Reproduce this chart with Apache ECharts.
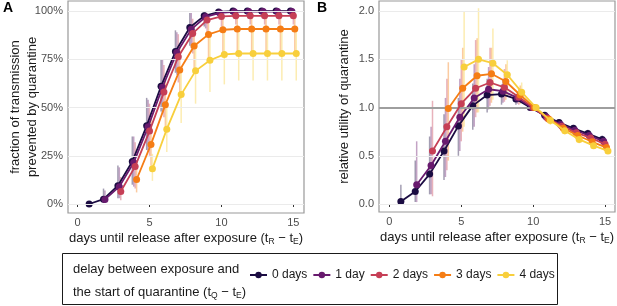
<!DOCTYPE html>
<html><head><meta charset="utf-8">
<script src="https://cdn.jsdelivr.net/npm/echarts@6/dist/echarts.min.js"></script>
<style>html,body{margin:0;padding:0;background:#fff}#c{width:617px;height:306px}</style>
</head><body><div id="c"></div>
<script>
// ---------- data ----------
const delays = ['0 days', '1 day', '2 days', '3 days', '4 days'];
const startDay = [1, 2, 3, 4, 5];           // first release day of each delay group
const xTicks = [0, 5, 10, 15];
const yTicksA = [0, 25, 50, 75, 100];
const yTicksB = [0, 0.5, 1, 1.5, 2];

// Panel A: fraction of transmission prevented (%)
const fracMean0 = [0, 2.5, 9.5, 22, 40.5, 61, 79, 91.5, 97.5, 99.5, 100, 100, 100, 100, 100];
const fracMean1 = [2.4, 9, 21.5, 40, 60.5, 78.5, 90.5, 97, 99, 99.6, 99.7, 99.7, 99.7, 99.7];
const fracMean2 = [6.5, 19.5, 37.8, 58, 76.3, 88.4, 95.3, 97.2, 97.5, 97.5, 97.5, 97.5, 97.5];
const fracMean3 = [12.7, 30.9, 51.5, 69.4, 81.9, 87.9, 90.3, 90.7, 90.7, 90.7, 90.7, 90.7];
const fracMean4 = [18.3, 38.8, 56.7, 69, 74.5, 77.5, 78, 78, 78, 78, 78];
const fracLo0 = [0, 0.5, 3, 10, 28, 48, 68, 82, 92, 97, 99, 99, 99, 99, 99];
const fracHi0 = [0.5, 8, 20, 35, 55, 75, 90, 99, 100, 100, 100, 100, 100, 100, 100];
const fracLo1 = [0.5, 3, 9, 27, 47, 67, 81, 91, 96, 98, 98, 98, 98, 98];
const fracHi1 = [7, 19, 35, 54, 75, 89, 99, 100, 100, 100, 100, 100, 100, 100];
const fracLo2 = [2, 8, 25, 45, 63, 78, 88, 92, 93, 93, 93, 93, 93];
const fracHi2 = [14, 32, 52, 72, 88, 96, 99, 100, 100, 100, 100, 100, 100];
const fracLo3 = [6, 20, 38, 55, 68, 75, 78, 78, 78, 78, 78, 78];
const fracHi3 = [22, 45, 65, 82, 93, 97, 98, 99, 99, 99, 99, 99];
const fracLo4 = [12, 27, 42, 52, 58, 62, 64, 64, 64, 64, 64];
const fracHi4 = [26, 52, 70, 84, 89, 91, 92, 92, 92, 92, 92];

// Panel B: relative utility of quarantine
const utilMean0 = [0.025, 0.13, 0.31, 0.55, 0.81, 1.02, 1.13, 1.14, 1.09, 1.0, 0.92, 0.845, 0.785, 0.73, 0.67];
const utilMean1 = [0.20, 0.40, 0.65, 0.90, 1.10, 1.19, 1.17, 1.10, 1.0, 0.905, 0.825, 0.765, 0.71, 0.65];
const utilMean2 = [0.55, 0.80, 1.04, 1.20, 1.26, 1.21, 1.11, 1.0, 0.89, 0.805, 0.74, 0.685, 0.62];
const utilMean3 = [0.99, 1.20, 1.33, 1.35, 1.27, 1.13, 1.0, 0.88, 0.785, 0.71, 0.645, 0.585];
const utilMean4 = [1.42, 1.50, 1.46, 1.34, 1.16, 1.0, 0.865, 0.76, 0.67, 0.605, 0.55];
const utilLo0 = [0, 0.02, 0.1, 0.25, 0.5, 0.77, 0.95, 1.03, 1.03, 0.98, 0.88, 0.80, 0.74, 0.69, 0.63];
const utilHi0 = [0.2, 0.45, 0.7, 0.93, 1.1, 1.25, 1.3, 1.24, 1.14, 1.02, 0.95, 0.88, 0.82, 0.77, 0.71];
const utilLo1 = [0.02, 0.1, 0.28, 0.55, 0.8, 0.98, 1.05, 1.04, 0.98, 0.87, 0.79, 0.72, 0.67, 0.61];
const utilHi1 = [0.65, 0.8, 1.1, 1.3, 1.45, 1.42, 1.3, 1.16, 1.02, 0.94, 0.87, 0.81, 0.75, 0.69];
const utilLo2 = [0.08, 0.35, 0.65, 0.9, 1.02, 1.06, 1.03, 0.97, 0.86, 0.77, 0.70, 0.64, 0.58];
const utilHi2 = [1.07, 1.3, 1.5, 1.7, 1.62, 1.4, 1.2, 1.03, 0.93, 0.85, 0.78, 0.72, 0.66];
const utilLo3 = [0.45, 0.75, 0.95, 1.05, 1.08, 1.04, 0.97, 0.84, 0.74, 0.67, 0.61, 0.55];
const utilHi3 = [1.47, 1.62, 1.72, 1.62, 1.45, 1.23, 1.03, 0.92, 0.83, 0.75, 0.68, 0.62];
const utilLo4 = [0.8, 0.95, 1.08, 1.12, 1.07, 0.97, 0.82, 0.72, 0.63, 0.57, 0.52];
const utilHi4 = [2.0, 2.03, 1.82, 1.49, 1.26, 1.03, 0.91, 0.8, 0.71, 0.64, 0.58];
const utilRef = 1;

// ---------- chart ----------
const fracMean = [fracMean0, fracMean1, fracMean2, fracMean3, fracMean4];
const fracLo = [fracLo0, fracLo1, fracLo2, fracLo3, fracLo4];
const fracHi = [fracHi0, fracHi1, fracHi2, fracHi3, fracHi4];
const utilMean = [utilMean0, utilMean1, utilMean2, utilMean3, utilMean4];
const utilLo = [utilLo0, utilLo1, utilLo2, utilLo3, utilLo4];
const utilHi = [utilHi0, utilHi1, utilHi2, utilHi3, utilHi4];

const colors = ['#1b0c42', '#681a6e', '#c63f56', '#f57d15', '#f8cf3c'];
const dodge = [-0.2, -0.1, 0, 0.1, 0.2];
const FONT = 'Liberation Sans, Arial, sans-serif';
const tickCol = '#4d4d4d';

const chart = echarts.init(document.getElementById('c'), null, {renderer: 'canvas'});

function xAxisDef(gi, min, max) {
  return {
    type: 'value', gridIndex: gi, min: min, max: max,
    axisLine: {show: false},
    axisTick: {show: true, length: 3, customValues: xTicks, lineStyle: {color: '#333', width: 1}},
    axisLabel: {customValues: xTicks, color: tickCol, fontSize: 11, fontFamily: FONT, margin: 4},
    splitLine: {show: false},
    name: '{t|days until release after exposure (t}{s|R}{t| \u2212 t}{s|E}{t|)}',
    nameLocation: 'middle', nameGap: 17, nameMoveOverlap: false,
    nameTextStyle: {rich: {
      t: {fontSize: 13, fontFamily: FONT, color: '#1a1a1a', lineHeight: 16},
      s: {fontSize: 8.5, fontFamily: FONT, color: '#1a1a1a', lineHeight: 16, verticalAlign: 'bottom', padding: [6, 0, 0, 0]}
    }}
  };
}

const option = {
  animation: false,
  backgroundColor: '#ffffff',
  textStyle: {fontFamily: FONT},
  grid: [
    {left: 68, top: 1, width: 236, height: 212, show: true, borderColor: '#999999', borderWidth: 1.2, backgroundColor: '#fff'},
    {left: 379, top: 1, width: 237, height: 211, show: true, borderColor: '#999999', borderWidth: 1.2, backgroundColor: '#fff'}
  ],
  xAxis: [xAxisDef(0, -0.67, 15.74), xAxisDef(1, -0.72, 15.69)],
  yAxis: [
    {type: 'value', gridIndex: 0, min: -4.66, max: 105.2,
      axisLine: {show: false},
      axisTick: {show: true, length: 3, customValues: yTicksA, lineStyle: {color: '#333'}},
      axisLabel: {customValues: yTicksA, formatter: v => v + '%', color: tickCol, fontSize: 11, fontFamily: FONT, margin: 5},
      splitLine: {show: false},
      name: 'fraction of transmission\nprevented by quarantine',
      nameLocation: 'middle', nameGap: 27, nameMoveOverlap: false,
      nameTextStyle: {fontSize: 13, fontFamily: FONT, color: '#1a1a1a', lineHeight: 17}
    },
    {type: 'value', gridIndex: 1, min: -0.083, max: 2.105,
      axisLine: {show: false},
      axisTick: {show: true, length: 3, customValues: yTicksB, lineStyle: {color: '#333'}},
      axisLabel: {customValues: yTicksB, formatter: v => v.toFixed(1), color: tickCol, fontSize: 11, fontFamily: FONT, margin: 5},
      splitLine: {show: false},
      name: 'relative utility of quarantine',
      nameLocation: 'middle', nameGap: 28, nameMoveOverlap: false,
      nameTextStyle: {fontSize: 13, fontFamily: FONT, color: '#1a1a1a'}
    }
  ],
  legend: {
    data: delays, left: 244, top: 264, itemWidth: 17, itemHeight: 8, itemGap: 5,
    textStyle: {fontSize: 12, fontFamily: FONT, color: '#1a1a1a'},
    selectedMode: false
  },
  graphic: [
    {type: 'text', left: 3, top: 1, style: {text: 'A', font: 'bold 14px ' + FONT, fill: '#000'}},
    {type: 'text', left: 317, top: 1, style: {text: 'B', font: 'bold 14px ' + FONT, fill: '#000'}},
    {type: 'rect', shape: {x: 62.5, y: 253.5, width: 495, height: 51}, style: {fill: 'none', stroke: '#1a1a1a', lineWidth: 1}},
    {type: 'text', left: 73, top: 263, style: {text: 'delay between exposure and', font: '13px ' + FONT, fill: '#1a1a1a'}},
    {type: 'text', left: 73, top: 285, style: {
      text: '{t|the start of quarantine (t}{s|Q}{t| \u2212 t}{s|E}{t|)}',
      rich: {
        t: {fontSize: 13, fontFamily: FONT, fill: '#1a1a1a', lineHeight: 16},
        s: {fontSize: 8.5, fontFamily: FONT, fill: '#1a1a1a', lineHeight: 16, verticalAlign: 'bottom', padding: [6, 0, 0, 0]}
      }}}
  ],
  series: []
};

// background gridlines / reference line
option.series.push({
  type: 'line', xAxisIndex: 0, yAxisIndex: 0, data: [], z: 0, silent: true,
  markLine: {silent: true, symbol: 'none', label: {show: false}, animation: false,
    lineStyle: {color: '#ebebeb', width: 1, type: 'solid'},
    data: yTicksA.map(v => ({yAxis: v}))}
});
option.series.push({
  type: 'line', xAxisIndex: 1, yAxisIndex: 1, data: [], z: 0, silent: true,
  markLine: {silent: true, symbol: 'none', label: {show: false}, animation: false,
    lineStyle: {color: '#ebebeb', width: 1, type: 'solid'},
    data: yTicksB.filter(v => v !== utilRef).map(v => ({yAxis: v}))}
});
option.series.push({
  type: 'line', xAxisIndex: 1, yAxisIndex: 1, data: [], z: 0, silent: true,
  markLine: {silent: true, symbol: 'none', label: {show: false}, animation: false,
    lineStyle: {color: '#9e9e9e', width: 2.2, type: 'solid'},
    data: [{yAxis: utilRef}]}
});

function errSeries(gi, i, lo, hi) {
  return {
    type: 'custom', xAxisIndex: gi, yAxisIndex: gi, z: 1, silent: true,
    data: lo.map((v, k) => [startDay[i] + k + dodge[i], v, hi[k]]),
    encode: {x: 0, y: [1, 2]},
    renderItem: (params, api) => {
      const x = api.value(0);
      const p1 = api.coord([x, api.value(1)]);
      const p2 = api.coord([x, api.value(2)]);
      return {type: 'line', shape: {x1: p1[0], y1: p1[1], x2: p2[0], y2: p2[1]},
        style: {stroke: colors[i], lineWidth: 1.5, opacity: 0.4}};
    }
  };
}
for (let i = 0; i < 5; i++) option.series.push(errSeries(0, i, fracLo[i], fracHi[i]));
for (let i = 0; i < 5; i++) option.series.push(errSeries(1, i, utilLo[i], utilHi[i]));

function lineSeries(gi, i, vals) {
  return {
    type: 'line', name: delays[i], xAxisIndex: gi, yAxisIndex: gi, z: 3 + i,
    data: vals.map((v, k) => [startDay[i] + k + dodge[i], v]),
    symbol: 'circle', symbolSize: 7, showSymbol: true,
    lineStyle: {color: colors[i], width: 1.8},
    itemStyle: {color: colors[i]},
    emphasis: {disabled: true}
  };
}
for (let i = 0; i < 5; i++) option.series.push(lineSeries(0, i, fracMean[i]));
for (let i = 0; i < 5; i++) option.series.push(lineSeries(1, i, utilMean[i]));

chart.setOption(option);
</script></body></html>
